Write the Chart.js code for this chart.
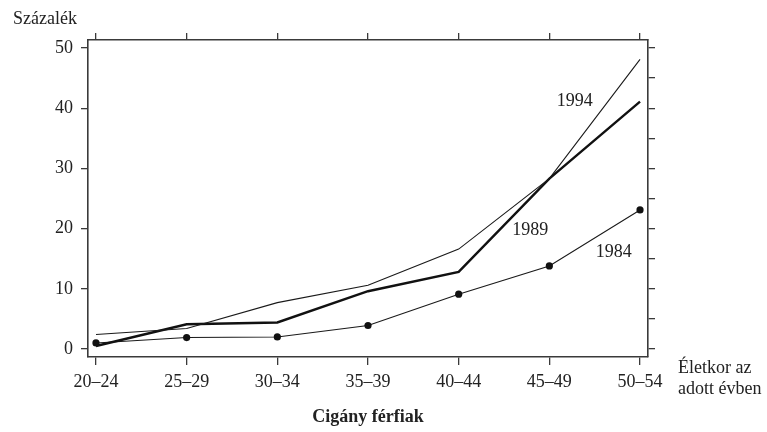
<!DOCTYPE html>
<html>
<head>
<meta charset="utf-8">
<script src="https://cdn.jsdelivr.net/npm/chart.js@4/dist/chart.umd.min.js"></script>
<style>
html,body{margin:0;padding:0;background:#fff;}
#wrap{width:767px;height:432px;position:relative;}
</style>
</head>
<body>
<div id="wrap"><canvas id="c" width="767" height="432"></canvas></div>
<script>
const categories = ["20–24","25–29","30–34","35–39","40–44","45–49","50–54"];
const s1984 = [1.0, 1.9, 2.0, 3.9, 9.1, 13.8, 23.1];
const s1989 = [0.5, 4.1, 4.4, 9.6, 12.8, 28.3, 41.1];
const s1994 = [2.4, 3.4, 7.7, 10.6, 16.6, 28.3, 48.1];
const yTicksLeft = [0, 10, 20, 30, 40, 50];
const yTicksRight = [0, 5, 10, 15, 20, 25, 30, 35, 40, 45, 50];
const seriesLabels = [
  {text: "1994", x: 5.28, y: 41.2},
  {text: "1989", x: 4.79, y: 19.8},
  {text: "1984", x: 5.71, y: 16.0}
];
const yAxisTitle = "Százalék";
const xAxisNote = ["Életkor az", "adott évben"];
const chartTitle = "Cigány férfiak";

const FONT = "'Liberation Serif', 'DejaVu Serif', serif";
const INK = "#222";
const FRAME = "#3a3a3a";

function pts(arr){ return arr.map((v,i)=>({x:i, y:v})); }

const textPlugin = {
  id: 'texts',
  afterDraw(chart){
    const ctx = chart.ctx;
    const xs = chart.scales.x, ys = chart.scales.y;
    const ca = chart.chartArea;
    ctx.save();
    ctx.fillStyle = INK;
    ctx.font = "18px " + FONT;
    ctx.textAlign = "center";
    ctx.textBaseline = "middle";
    seriesLabels.forEach(l=>{
      ctx.fillText(l.text, xs.getPixelForValue(l.x), ys.getPixelForValue(l.y));
    });
    ctx.textAlign = "left";
    ctx.fillText(yAxisTitle, 13, 19);
    ctx.fillText(xAxisNote[0], ca.right + 30, 368);
    ctx.fillText(xAxisNote[1], ca.right + 30, 389);
    ctx.textAlign = "center";
    ctx.font = "bold 18px " + FONT;
    ctx.fillText(chartTitle, (ca.left + ca.right)/2, 417);
    ctx.restore();
  }
};

const xMin = -0.088, xMax = 6.088, yMin = -1.33, yMax = 51.33;

function gridOpts(len){
  return {drawOnChartArea:false, drawTicks:true, tickLength:len, color:FRAME, tickColor:FRAME, lineWidth:1.3, tickWidth:1.3};
}
const borderOpts = {display:true, color:FRAME, width:1.6};

new Chart(document.getElementById('c'), {
  type: 'line',
  data: {
    datasets: [
      {label:'1994', data: pts(s1994), borderColor:'#1a1a1a', borderWidth:1.1, pointRadius:0, tension:0, fill:false},
      {label:'1989', data: pts(s1989), borderColor:'#111', borderWidth:2.4, pointRadius:0, tension:0, fill:false},
      {label:'1984', data: pts(s1984), borderColor:'#1a1a1a', borderWidth:1.1, pointRadius:3.6, pointBackgroundColor:'#111', pointBorderColor:'#111', pointBorderWidth:0, tension:0, fill:false}
    ]
  },
  options: {
    responsive:false,
    animation:false,
    layout:{padding:0},
    plugins:{legend:{display:false}, tooltip:{enabled:false}, title:{display:false}},
    scales:{
      x:{
        type:'linear', position:'bottom', min:xMin, max:xMax,
        afterBuildTicks(s){ s.ticks = categories.map((c,i)=>({value:i})); },
        afterFit(s){ s.height = 75; },
        ticks:{padding:6, color:INK, font:{family:FONT, size:18}, maxRotation:0, autoSkip:false,
          callback:(v)=>categories[Math.round(v)]},
        grid:gridOpts(8), border:borderOpts
      },
      x2:{
        type:'linear', axis:'x', position:'top', min:xMin, max:xMax,
        afterBuildTicks(s){ s.ticks = categories.map((c,i)=>({value:i})); },
        afterFit(s){ s.height = 40; },
        ticks:{display:false},
        grid:gridOpts(7), border:borderOpts
      },
      y:{
        type:'linear', position:'left', min:yMin, max:yMax,
        afterBuildTicks(s){ s.ticks = yTicksLeft.map(v=>({value:v})); },
        afterFit(s){ s.width = 88; },
        ticks:{padding:8, color:INK, font:{family:FONT, size:18}},
        grid:gridOpts(7), border:borderOpts
      },
      y2:{
        type:'linear', axis:'y', position:'right', min:yMin, max:yMax,
        afterBuildTicks(s){ s.ticks = yTicksRight.map(v=>({value:v})); },
        afterFit(s){ s.width = 119; },
        ticks:{display:false},
        grid:gridOpts(7), border:borderOpts
      }
    }
  },
  plugins:[textPlugin]
});
</script>
</body>
</html>
